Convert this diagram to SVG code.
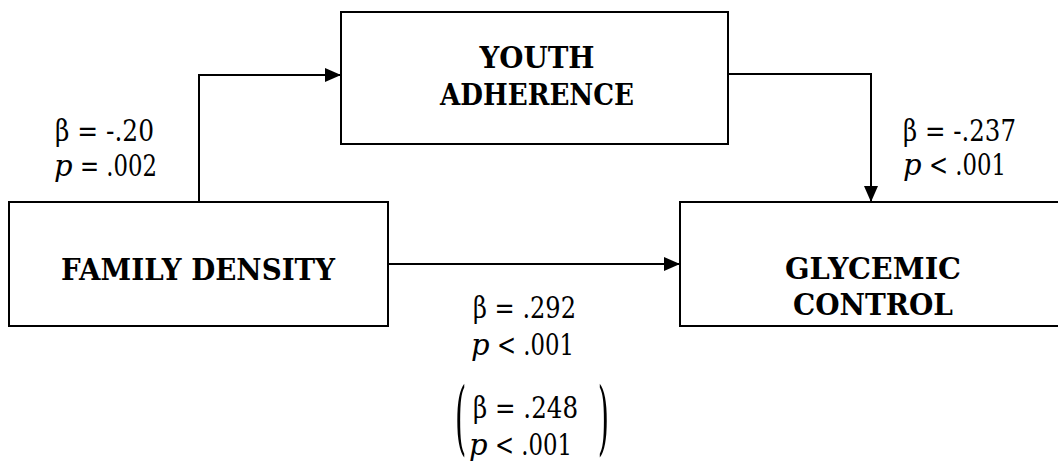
<svg xmlns="http://www.w3.org/2000/svg" width="1058" height="462" viewBox="0 0 1058 462">
<style>
.box{fill:#fff;stroke:#000;stroke-width:2}
.con{fill:none;stroke:#000;stroke-width:2}
.ttl{font-family:'DejaVu Serif',serif;font-size:29px;font-weight:bold;text-anchor:middle;fill:#000}
.lbl{font-family:'DejaVu Serif',serif;font-size:29px;fill:#000}
.it{font-style:italic}
</style>
<defs>
<marker id="ah" markerUnits="userSpaceOnUse" markerWidth="16" markerHeight="14" refX="16" refY="7" orient="auto">
<path d="M0,0 L16,7 L0,14 z" fill="#000"/>
</marker>
</defs>
<rect width="1058" height="462" fill="#fff"/>
<g id="connectors">
<path class="con" d="M199,202 V75 H341" marker-end="url(#ah)"/>
<path class="con" d="M728,74 H871 V202" marker-end="url(#ah)"/>
<path class="con" d="M388,264 H680" marker-end="url(#ah)"/>
</g>
<g id="youth">
<rect class="box" x="341" y="12" width="387" height="132"/>
<text class="ttl" x="537" y="68" textLength="115" lengthAdjust="spacingAndGlyphs">YOUTH</text>
<text class="ttl" x="537" y="105" textLength="194" lengthAdjust="spacingAndGlyphs">ADHERENCE</text>
</g>
<g id="family">
<rect class="box" x="9" y="202" width="379" height="124"/>
<text class="ttl" x="198" y="280" textLength="274" lengthAdjust="spacingAndGlyphs">FAMILY DENSITY</text>
</g>
<g id="glycemic">
<rect class="box" x="680" y="202" width="390" height="124"/>
<text class="ttl" x="873" y="279" textLength="176" lengthAdjust="spacingAndGlyphs">GLYCEMIC</text>
<text class="ttl" x="873" y="315" textLength="160" lengthAdjust="spacingAndGlyphs">CONTROL</text>
</g>
<g id="labels">
<text class="lbl" x="55" y="141" textLength="99" lengthAdjust="spacingAndGlyphs">β = -.20</text>
<text class="lbl it" x="54" y="176">p</text>
<text class="lbl" x="80" y="176" textLength="77" lengthAdjust="spacingAndGlyphs">= .002</text>
<text class="lbl" x="903" y="141" textLength="113" lengthAdjust="spacingAndGlyphs">β = -.237</text>
<text class="lbl it" x="903" y="175">p</text>
<text class="lbl" x="929" y="175" textLength="77" lengthAdjust="spacingAndGlyphs">&lt; .001</text>
<text class="lbl" x="473" y="318" textLength="103" lengthAdjust="spacingAndGlyphs">β = .292</text>
<text class="lbl it" x="471" y="355">p</text>
<text class="lbl" x="497" y="355" textLength="77" lengthAdjust="spacingAndGlyphs">&lt; .001</text>
<text class="lbl" x="473" y="418" textLength="105" lengthAdjust="spacingAndGlyphs">β = .248</text>
<text class="lbl it" x="469" y="455">p</text>
<text class="lbl" x="495" y="455" textLength="77" lengthAdjust="spacingAndGlyphs">&lt; .001</text>
<text class="lbl" transform="translate(455,423.5) scale(1,2.8)" y="7.8">(</text>
<text class="lbl" text-anchor="end" transform="translate(609,423.5) scale(1,2.8)" y="7.8">)</text>
</g>
</svg>
